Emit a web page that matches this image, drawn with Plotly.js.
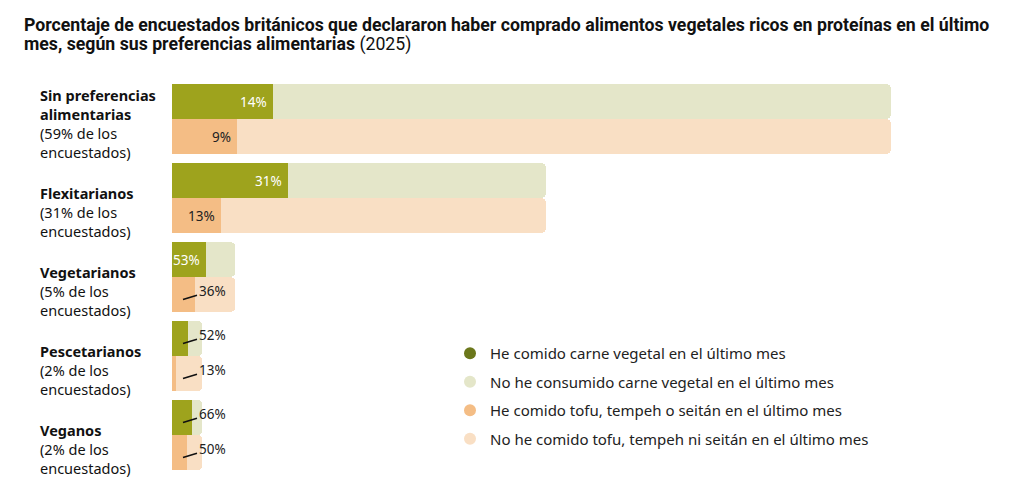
<!DOCTYPE html>
<html>
<head>
<meta charset="utf-8">
<script src="https://cdn.plot.ly/plotly-3.0.1.min.js"></script>
<style>html,body{margin:0;padding:0;background:#fff;}#chart{width:1024px;height:492px;}</style>
</head>
<body>
<div id="chart"></div>
<script>
// ---- data ----
var groupNames = ['Sin preferencias<br>alimentarias', 'Flexitarianos', 'Vegetarianos', 'Pescetarianos', 'Veganos'];
var groupShareLabels = ['59%', '31%', '5%', '2%', '2%'];
var groupShare = [59, 30.7, 5.2, 2.5, 2.5];          // share of respondents (bar length)
var meatAltPct = [14, 31, 53, 52, 66];                // ate plant-based meat in last month
var tofuPct = [9, 13, 36, 13, 50];                    // ate tofu/tempeh/seitan in last month
var legendNames = [
  'He comido carne vegetal en el último mes',
  'No he consumido carne vegetal en el último mes',
  'He comido tofu, tempeh o seitán en el último mes',
  'No he comido tofu, tempeh ni seitán en el último mes'
];
var titleLines = [
  '<b>Porcentaje de encuestados británicos que declararon haber comprado alimentos vegetales ricos en proteínas en el último</b>',
  '<b>mes, según sus preferencias alimentarias</b> (2025)'
];

// ---- styles ----
var C_GREEN = '#9ea31d', C_GREEN_L = '#e4e6c9', C_ORANGE = '#f4bd85', C_ORANGE_L = '#f9dfc4';
var C_GREEN_DOT = '#6b771b';
var FONT = '"Noto Sans", "Open Sans", sans-serif';
var TITLE_FONT = '"Liberation Sans Narrow", "Roboto", sans-serif';
var pitch = 2.257;
var n = groupNames.length;
var topPos = groupNames.map(function (_, i) { return i * pitch + 0.5; });
var botPos = groupNames.map(function (_, i) { return i * pitch + 1.5; });
var yMax = (n - 1) * pitch + 2;

function part(arr, pct, on) {
  return arr.map(function (s, i) { return on ? s * pct[i] / 100 : s * (100 - pct[i]) / 100; });
}

function barTrace(x, y, color) {
  return { type: 'bar', orientation: 'h', x: x, y: y, width: 1, marker: { color: color, line: { width: 0 } },
    showlegend: false, hoverinfo: 'skip' };
}

var traces = [
  barTrace(part(groupShare, meatAltPct, true), topPos, C_GREEN),
  barTrace(part(groupShare, meatAltPct, false), topPos, C_GREEN_L),
  barTrace(part(groupShare, tofuPct, true), botPos, C_ORANGE),
  barTrace(part(groupShare, tofuPct, false), botPos, C_ORANGE_L)
];
var legendColors = [C_GREEN_DOT, C_GREEN_L, C_ORANGE, C_ORANGE_L];
legendNames.forEach(function (nm, k) {
  traces.push({ type: 'scatter', mode: 'markers', x: [null], y: [null], name: nm, legendgroup: 'g' + k,
    marker: { symbol: 'circle', size: 15, color: legendColors[k] }, hoverinfo: 'skip' });
});

var plotL = 172, plotR = 891, plotT = 84, plotB = 470;
var plotW = plotR - plotL, plotH = plotB - plotT;
var pxPerUnit = plotW / groupShare[0];
function px2paperX(px) { return (px - plotL) / plotW; }
function px2paperY(py) { return (plotB - py) / plotH; }

var annotations = [];
// title (two lines)
titleLines.forEach(function (t, k) {
  annotations.push({ xref: 'paper', yref: 'paper', x: px2paperX(22), y: px2paperY(k === 0 ? 25 : 44),
    xanchor: 'left', yanchor: 'middle', showarrow: false, text: t,
    font: { family: TITLE_FONT, size: 17.7, color: '#111' } });
});
// group labels
groupNames.forEach(function (g, i) {
  annotations.push({
    xref: 'paper', yref: 'y', x: px2paperX(38), y: i * pitch + 2,
    xanchor: 'left', yanchor: 'bottom', align: 'left', showarrow: false, yshift: -10,
    text: '<b>' + g + '</b><br>(' + groupShareLabels[i] + ' de los<br>encuestados)',
    font: { family: FONT, size: 14.5, color: '#111' }
  });
});
// value labels
function addValue(val, share, pos, textColor) {
  var segEnd = share * val / 100;
  if (segEnd * pxPerUnit >= 28) {
    annotations.push({ xref: 'x', yref: 'y', x: segEnd, y: pos, xanchor: 'right', xshift: -4, showarrow: false,
      text: val + '%', font: { family: FONT, size: 13.5, color: textColor } });
  } else {
    annotations.push({ xref: 'x', yref: 'y', x: 0, y: pos, xshift: 11, yshift: -5, showarrow: true,
      arrowhead: 0, arrowwidth: 1.6, arrowcolor: '#111', ax: 29, ay: -9,
      text: val + '%', font: { family: FONT, size: 13.5, color: '#222' } });
  }
}
groupShare.forEach(function (s, i) {
  addValue(meatAltPct[i], s, topPos[i], '#ffffff');
  addValue(tofuPct[i], s, botPos[i], '#222');
});

var layout = {
  width: 1024, height: 492,
  margin: { l: plotL, r: 1024 - plotR, t: plotT, b: 492 - plotB, pad: 0 },
  paper_bgcolor: '#fff', plot_bgcolor: '#fff',
  barmode: 'stack', bargap: 0, barcornerradius: 5,
  xaxis: { range: [0, groupShare[0]], showgrid: false, zeroline: false, showticklabels: false, showline: false, fixedrange: true },
  yaxis: { range: [yMax, 0], showgrid: false, zeroline: false, showticklabels: false, showline: false, fixedrange: true },
  showlegend: true,
  legend: {
    x: px2paperX(450), y: px2paperY(337), xanchor: 'left', yanchor: 'top',
    traceorder: 'grouped', tracegroupgap: 6, itemsizing: 'constant', bgcolor: 'rgba(0,0,0,0)',
    font: { family: FONT, size: 15, color: '#222' }
  },
  annotations: annotations,
  font: { family: FONT }
};

Plotly.newPlot('chart', traces, layout, { displayModeBar: false, staticPlot: true });
</script>
</body>
</html>
